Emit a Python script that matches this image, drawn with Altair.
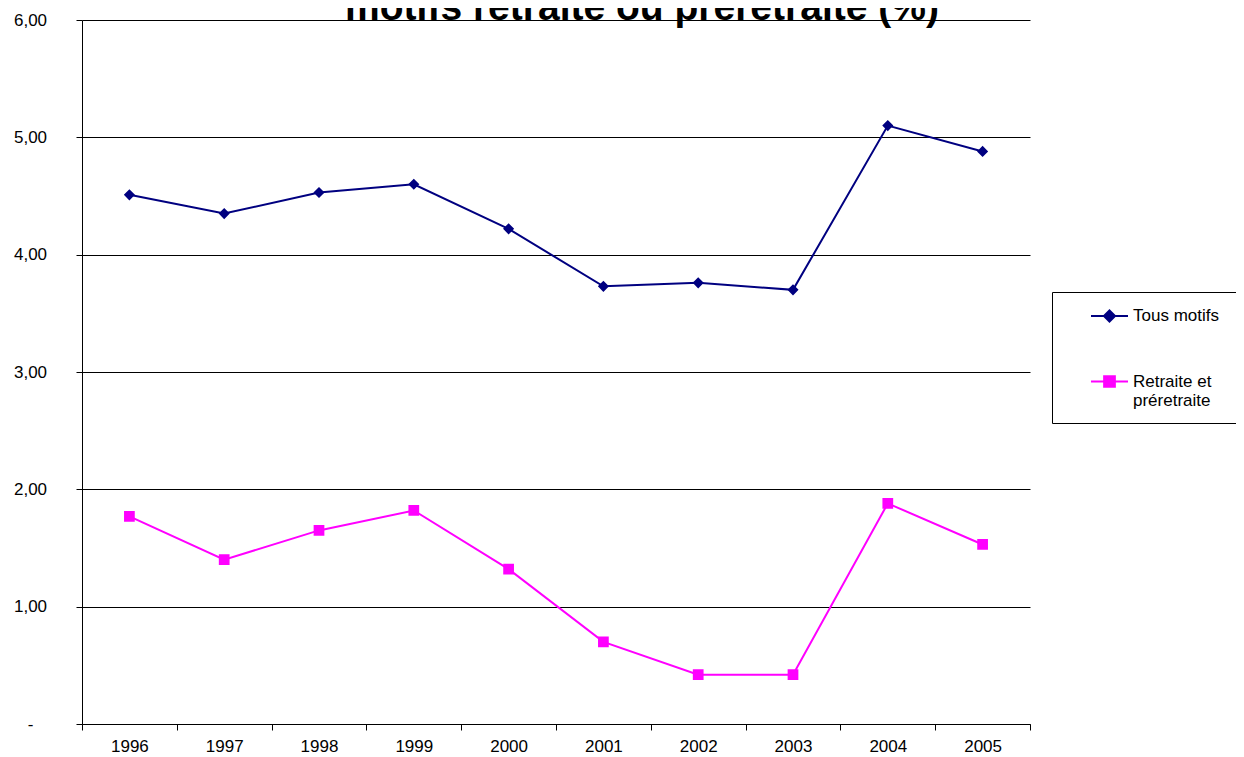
import altair as alt
import pandas as pd

years = ["1996", "1997", "1998", "1999", "2000", "2001", "2002", "2003", "2004", "2005"]
tous_motifs = [4.51, 4.35, 4.53, 4.60, 4.22, 3.73, 3.76, 3.70, 5.10, 4.88]
retraite = [1.77, 1.40, 1.65, 1.82, 1.32, 0.70, 0.42, 0.42, 1.88, 1.53]
series_names = ["Tous motifs", "Retraite et préretraite"]
series_colors = ["#000080", "#FF00FF"]
series_shapes = [
    "M-1,0H1M0,-0.3L0.3,0L0,0.3L-0.3,0Z",
    "M-1,0H1M-0.29,-0.29H0.29V0.29H-0.29Z",
]
y_ticks = [0, 1, 2, 3, 4, 5, 6]
title_text = "motifs retraite ou préretraite (%)"

rows = []
for name, vals in zip(series_names, [tous_motifs, retraite]):
    for yr, v in zip(years, vals):
        rows.append({"annee": yr, "taux": v, "serie": name})
df = pd.DataFrame(rows)

FONT = "Liberation Sans"
NB = "\u00a0" * 3 + "\u200b"

legend = alt.Legend(
    title=" ",
    titleOrient="bottom",
    titleFontSize=10,
    titlePadding=0,
    orient="none",
    legendX=970,
    legendY=272,
    padding=4.5,
    symbolOffset=33.5,
    symbolSize=1369,
    symbolStrokeWidth=2,
    labelOffset=4,
    labelLimit=300,
    labelFont=FONT,
    labelFontSize=17,
    labelColor="black",
    strokeColor="black",
    fillColor="white",
    rowPadding=35.5,
    labelExpr=f"datum.label == 'Tous motifs' ? 'Tous motifs{NB}' : ['Retraite et', 'préretraite']",
)

x_enc = alt.X(
    "annee:O",
    sort=years,
    scale=alt.Scale(type="band", paddingInner=0, paddingOuter=0),
    axis=alt.Axis(
        title=None,
        labelAngle=0,
        tickBand="extent",
        tickSize=6,
        labelPadding=8,
        domainColor="black",
        tickColor="black",
        labelFont=FONT,
        labelFontSize=17,
        labelColor="black",
    ),
)
y_enc = alt.Y(
    "taux:Q",
    scale=alt.Scale(domain=[0, 6], nice=False, zero=True),
    axis=alt.Axis(
        title=None,
        values=y_ticks,
        labelExpr="datum.value == 0 ? '-' : replace(format(datum.value, '.2f'), '.', ',')",
        grid=True,
        gridColor="black",
        gridWidth=1,
        tickSize=6,
        tickColor="black",
        domainColor="black",
        labelAlign="center",
        labelPadding=46,
        labelFont=FONT,
        labelFontSize=17,
        labelColor="black",
    ),
)

color_scale = alt.Scale(domain=series_names, range=series_colors)
shape_scale = alt.Scale(domain=series_names, range=series_shapes)

lines = alt.Chart(df).mark_line(strokeWidth=2).encode(
    x=x_enc,
    y=y_enc,
    stroke=alt.Stroke("serie:N", scale=color_scale, legend=legend),
)

points = alt.Chart(df).mark_point(filled=True, size=1369, opacity=1).encode(
    x=x_enc,
    y=y_enc,
    fill=alt.Fill("serie:N", scale=color_scale, legend=legend),
    shape=alt.Shape("serie:N", scale=shape_scale, legend=legend),
)

title = alt.Chart(pd.DataFrame({"t": [title_text]})).mark_text(
    font=FONT,
    fontSize=39,
    fontWeight="bold",
    color="black",
    align="center",
    baseline="alphabetic",
).encode(
    text="t:N",
    x=alt.value(560),
    y=alt.value(0),
)

chart = (
    alt.layer(lines, points, title)
    .properties(
        width=948,
        height=704,
        autosize=alt.AutoSizeParams(type="none"),
        padding={"left": 74, "top": 12, "right": 206, "bottom": 33},
        background="white",
    )
    .configure_view(strokeWidth=0)
)

chart.save("out.html", embed_options={"renderer": "svg", "actions": False})
